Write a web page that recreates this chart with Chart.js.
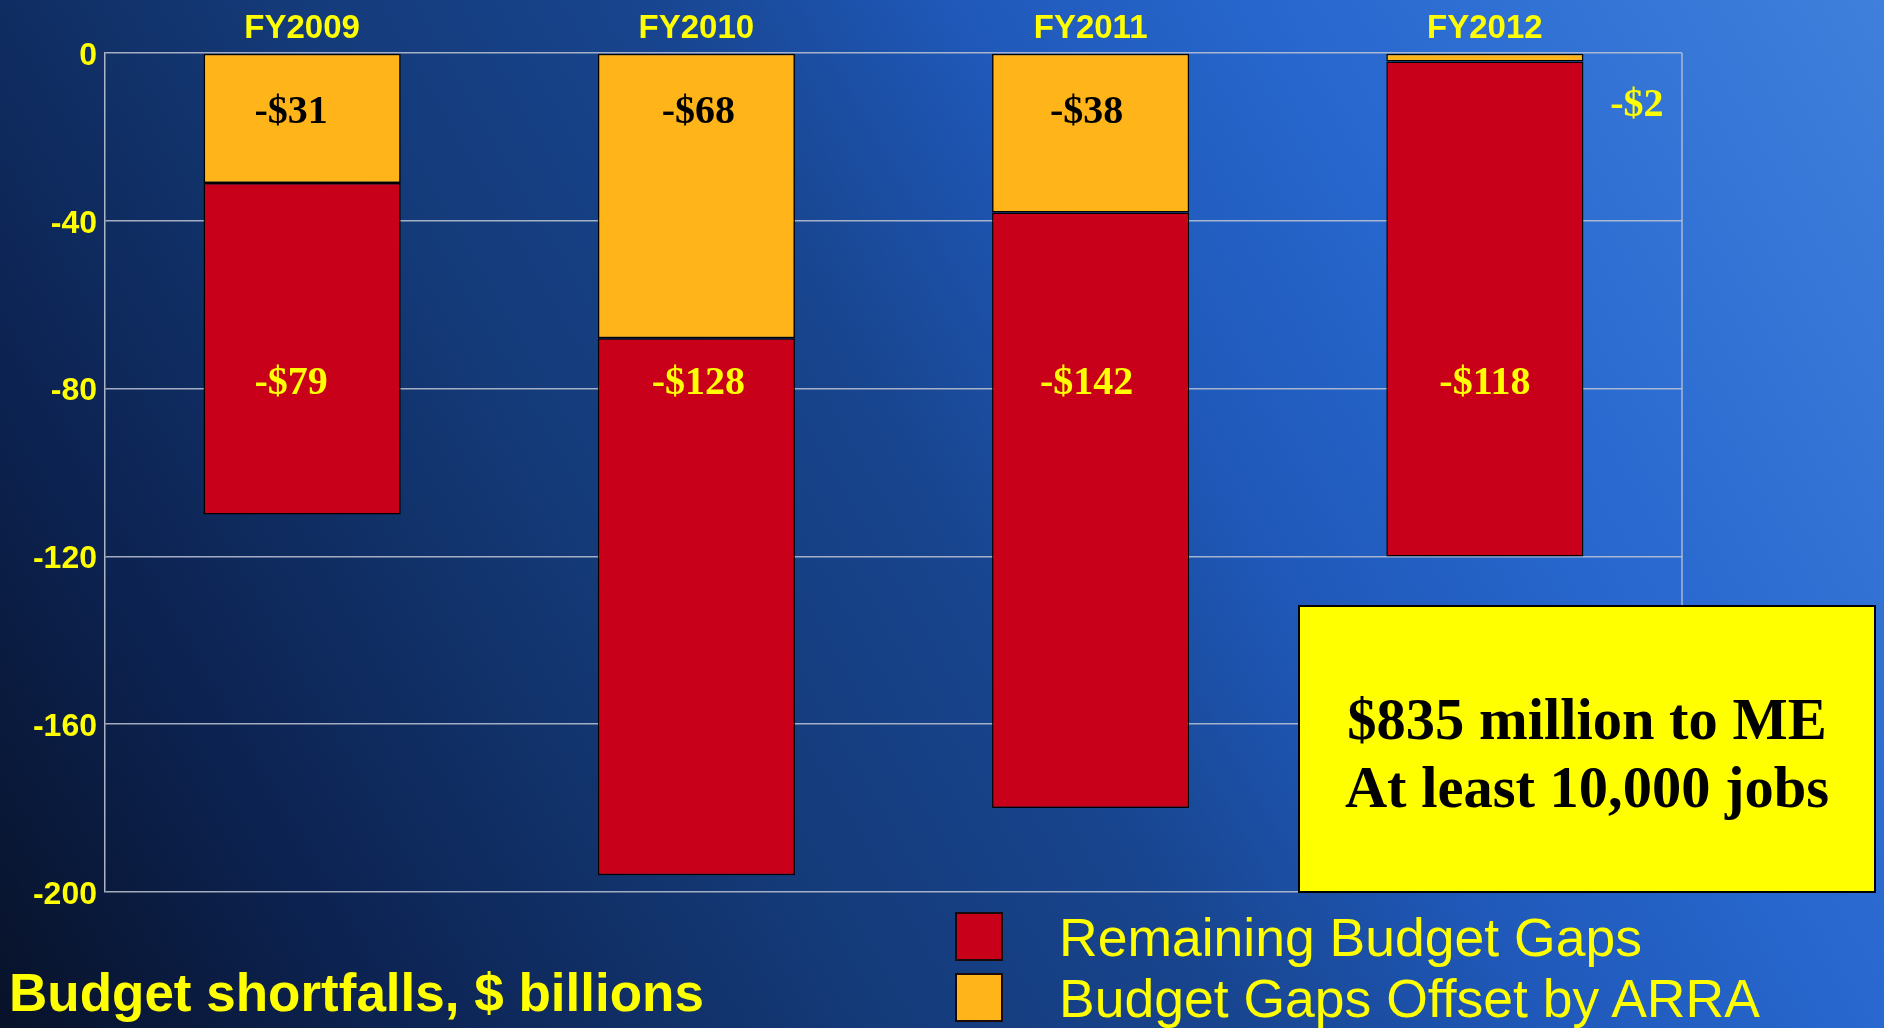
<!DOCTYPE html>
<html>
<head>
<meta charset="utf-8">
<script src="https://cdn.jsdelivr.net/npm/chart.js@4.4.1/dist/chart.umd.min.js"></script>
<style>
  html,body{margin:0;padding:0;}
  body{width:1884px;height:1028px;overflow:hidden;position:relative;
    background:linear-gradient(60deg,#081229 0%,#0c2250 15%,#143a78 35%,#18458f 50%,#1f58b8 62%,#2868cf 76%,#3f80dc 100%);
    font-family:"Liberation Sans",Arial,sans-serif;}
  #c{position:absolute;left:0;top:0;}
  .note{position:absolute;left:1298px;top:605px;width:578px;height:288px;background:#ffff00;border:2px solid #000;
    display:flex;flex-direction:column;justify-content:center;align-items:center;
    font-family:"Liberation Serif","Times New Roman",serif;font-weight:bold;font-size:58.5px;line-height:68px;color:#000;padding-top:10px;box-sizing:border-box;}
  .title{position:absolute;left:9px;top:962px;font-weight:bold;font-size:53px;color:#ffff00;line-height:62px;white-space:nowrap;}
  .leg{position:absolute;left:955px;font-size:53.5px;color:#ffff00;white-space:nowrap;line-height:60px;}
  .leg i{position:absolute;left:0;top:0;width:44px;height:45px;border:2px solid #1a0a0a;}
  .leg span{position:absolute;left:104px;top:-4px;}
</style>
</head>
<body>
<canvas id="c" width="1884" height="1028"></canvas>
<div class="note"><div>$835 million to ME</div><div>At least 10,000 jobs</div></div>
<div class="leg" style="top:912px"><i style="background:#c8001a"></i><span>Remaining Budget Gaps</span></div>
<div class="leg" style="top:973px"><i style="background:#ffb419"></i><span>Budget Gaps Offset by ARRA</span></div>
<div class="title">Budget shortfalls, $ billions</div>
<script>
const years = ["FY2009","FY2010","FY2011","FY2012"];
const offsetByArra = [-31,-68,-38,-2];
const remainingGaps = [-79,-128,-142,-118];
const yTicks = [0,-40,-80,-120,-160,-200];

const RED = "#c8001a", ORANGE = "#ffb419", YELLOW = "#ffff00";
const SERIF = "'Liberation Serif','Times New Roman',serif";
const SANS = "'Liberation Sans',Arial,sans-serif";
const money = v => "-$" + Math.abs(v);
const nudge = [-11,2,-4,0]; // label x shifts as in the slide

// plot frame + value labels
const frame = {
  id:"frame",
  beforeDatasetsDraw(ch){
    const a=ch.chartArea, c=ch.ctx;
    c.save(); c.strokeStyle="rgba(190,196,210,0.85)"; c.lineWidth=1.5;
    c.beginPath(); c.moveTo(a.right,a.top); c.lineTo(a.right,a.bottom); c.stroke();
    c.restore();
  },
  afterDatasetsDraw(ch){
    const c=ch.ctx, x=ch.scales.x, y=ch.scales.y;
    c.save();
    c.font="bold 40px "+SERIF; c.textAlign="center"; c.textBaseline="middle";
    years.forEach((_,i)=>{
      const px=x.getPixelForValue(i)+nudge[i];
      const top=y.getPixelForValue(0), bot=y.getPixelForValue(offsetByArra[i]);
      if(bot-top>40){ c.fillStyle="#000"; c.fillText(money(offsetByArra[i]),px,y.getPixelForValue(-14.2)); }
      else { c.fillStyle=YELLOW; c.fillText(money(offsetByArra[i]),px+152,y.getPixelForValue(-12.5)); }
      c.fillStyle=YELLOW; c.fillText(money(remainingGaps[i]),px,y.getPixelForValue(-78.9));
    });
    c.restore();
  }
};

new Chart(document.getElementById("c"),{
  type:"bar",
  data:{labels:years,datasets:[
    {label:"Budget Gaps Offset by ARRA",data:offsetByArra,backgroundColor:ORANGE},
    {label:"Remaining Budget Gaps",data:remainingGaps,backgroundColor:RED}
  ]},
  options:{
    responsive:false,animation:false,devicePixelRatio:1,
    layout:{padding:{left:0,top:0,right:202,bottom:136}},
    datasets:{bar:{borderColor:"#000",borderWidth:1.5,borderSkipped:false,categoryPercentage:1,barPercentage:0.5}},
    plugins:{legend:{display:false},tooltip:{enabled:false}},
    scales:{
      x:{position:"top",stacked:true,grid:{display:false},border:{display:false},
        afterFit:s=>{s.height=53;},
        ticks:{color:YELLOW,padding:-4,font:{family:SANS,size:33,weight:"bold"}}},
      y:{stacked:true,min:-200,max:0,
        afterFit:s=>{s.width=105;},
        afterBuildTicks:s=>{s.ticks=yTicks.map(v=>({value:v}));},
        grid:{color:"rgba(190,196,210,0.85)",lineWidth:1.5,drawTicks:false},
        border:{color:"rgba(190,196,210,0.9)",width:1.5},
        ticks:{color:YELLOW,padding:8,labelOffset:3,font:{family:SANS,size:32,weight:"bold"}}}
    }
  },
  plugins:[frame]
});
</script>
</body>
</html>
